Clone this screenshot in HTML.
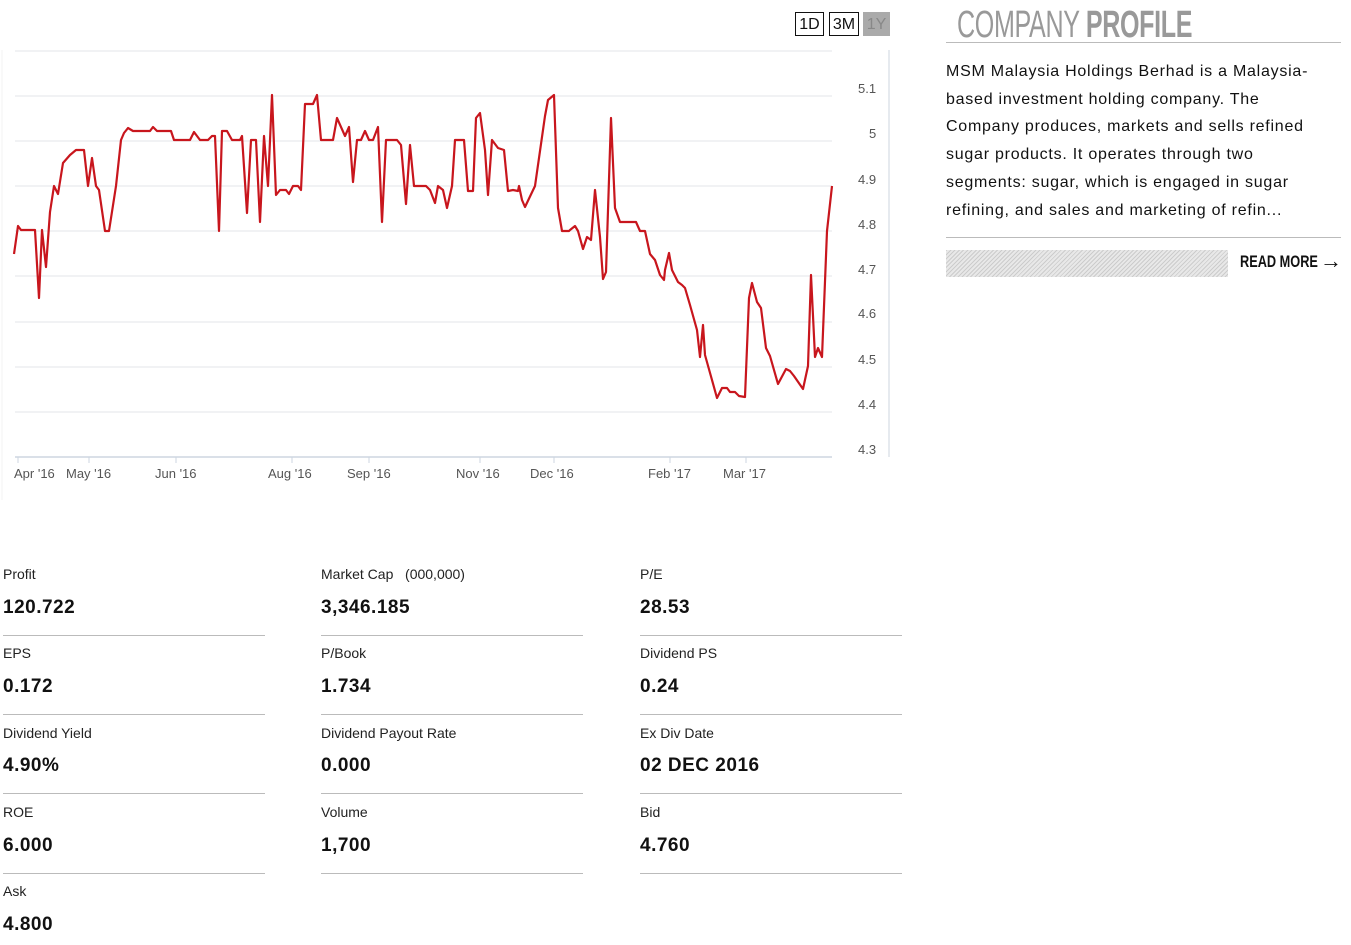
<!DOCTYPE html>
<html><head><style>
body{margin:0;width:1351px;height:945px;background:#fff;font-family:"Liberation Sans",sans-serif;position:relative;overflow:hidden;color:#111}
.a{position:absolute}
.btn{position:absolute;top:12px;height:24px;border:1.5px solid #111;font-size:16px;line-height:24px;text-align:center;box-sizing:border-box}
.lab{position:absolute;font-size:14px;color:#222}
.val{position:absolute;font-size:19px;font-weight:bold;letter-spacing:0.5px}
.ln{position:absolute;height:1px;background:#bbb;width:262px}
</style></head><body>
<div class="btn" style="left:795px;width:29px">1D</div>
<div class="btn" style="left:829px;width:30px">3M</div>
<div class="btn" style="left:863px;width:27px;background:#aaa;border-color:#aaa;color:#888">1Y</div>

<svg class="a" style="left:0;top:0" width="900" height="500">
<g stroke="#e3e6ea" stroke-width="1">
<line x1="15" x2="832" y1="51" y2="51"/><line x1="15" x2="832" y1="96" y2="96"/><line x1="15" x2="832" y1="141" y2="141"/><line x1="15" x2="832" y1="186" y2="186"/><line x1="15" x2="832" y1="231" y2="231"/><line x1="15" x2="832" y1="276" y2="276"/><line x1="15" x2="832" y1="322" y2="322"/><line x1="15" x2="832" y1="367" y2="367"/><line x1="15" x2="832" y1="412" y2="412"/>
</g>
<line x1="15" x2="832" y1="457" y2="457" stroke="#cdd6e0" stroke-width="1.5"/>
<line x1="889" x2="889" y1="50" y2="457" stroke="#dde3ea" stroke-width="1.5"/>
<line x1="2" x2="2" y1="50" y2="500" stroke="#f3f3f3" stroke-width="1"/>
<g stroke="#cdd6e0"><line x1="18" x2="18" y1="457" y2="463"/><line x1="89" x2="89" y1="457" y2="463"/><line x1="176" x2="176" y1="457" y2="463"/><line x1="292" x2="292" y1="457" y2="463"/><line x1="369" x2="369" y1="457" y2="463"/><line x1="480" x2="480" y1="457" y2="463"/><line x1="554" x2="554" y1="457" y2="463"/><line x1="670" x2="670" y1="457" y2="463"/><line x1="746" x2="746" y1="457" y2="463"/></g>
<g font-size="13" fill="#555" font-family="Liberation Sans">
<text x="858" y="93">5.1</text><text x="869" y="138">5</text><text x="858" y="184">4.9</text><text x="858" y="229">4.8</text><text x="858" y="274">4.7</text><text x="858" y="318">4.6</text><text x="858" y="364">4.5</text><text x="858" y="409">4.4</text><text x="858" y="454">4.3</text>
<text x="14" y="478">Apr '16</text><text x="66" y="478">May '16</text><text x="155" y="478">Jun '16</text><text x="268" y="478">Aug '16</text><text x="347" y="478">Sep '16</text><text x="456" y="478">Nov '16</text><text x="530" y="478">Dec '16</text><text x="648" y="478">Feb '17</text><text x="723" y="478">Mar '17</text>
</g>
<polyline fill="none" stroke="#c8161d" stroke-width="2.2" stroke-linejoin="round" points="14,254 18,226 21,230 35,230 39,298 42,230 46,267 50,212 54,186 58,194 63,163 70,155 76,150 84,150 88,186 92,158 96,186 99,190 105,231 109,231 116,186 121,140 124,133 128,128 133,131 150,131 153,127 157,131 171,131 174,140 190,140 194,132 200,140 208,140 212,136 215,136 219,231 222,131 227,131 232,140 240,140 242,136 247,213 251,140 256,140 260,222 264,136 268,186 272,95 276,195 280,190 286,190 289,194 293,186 298,186 301,190 305,104 313,104 317,95 321,140 333,140 337,118 345,136 349,127 353,182 357,140 361,140 365,131 369,140 373,140 378,127 382,222 386,140 397,140 401,145 406,204 410,145 414,186 426,186 430,190 435,203 438,186 443,190 447,208 452,186 455,140 464,140 468,191 473,191 476,118 480,113 485,150 488,195 492,140 498,148 504,150 508,191 513,190 518,191 519,186 522,200 525,207 535,186 545,116 548,100 554,95 558,208 562,231 569,231 570,230 575,226 578,231 583,249 587,237 591,240 595,190 600,237 603,279 606,272 611,118 615,208 620,222 636,222 640,231 645,231 650,254 655,260 660,275 664,280 665,270 669,253 672,270 678,282 682,285 685,288 690,305 697,330 700,357 703,325 705,355 712,380 717,398 722,388 727,388 730,392 735,392 739,396 745,397 749,298 752,283 757,302 761,308 766,348 770,356 778,384 786,369 790,371 794,376 803,389 808,366 811,275 815,357 818,348 822,357 827,231 832,186"/>
</svg>

<div class="a" style="left:957px;top:4px;font-size:38px;color:#999;transform:scaleX(0.66);transform-origin:0 0;white-space:nowrap;letter-spacing:-0.5px">COMPANY <b>PROFILE</b></div>
<div class="a" style="left:946px;top:42px;width:395px;height:1px;background:#bbb"></div>
<div class="a" style="left:946px;top:58px;width:405px;font-size:16px;line-height:27.7px;color:#111;letter-spacing:0.75px">MSM Malaysia Holdings Berhad is a Malaysia-<br>based investment holding company. The<br>Company produces, markets and sells refined<br>sugar products. It operates through two<br>segments: sugar, which is engaged in sugar<br>refining, and sales and marketing of refin...</div>
<div class="a" style="left:946px;top:237px;width:395px;height:1px;background:#bbb"></div>
<div class="a" style="left:946px;top:250px;width:282px;height:27px;background:repeating-linear-gradient(135deg,#ccc 0 1px,#e8e8e8 1px 3px)"></div>
<div class="a" style="left:1240px;top:252px;font-size:17px;font-weight:bold;transform:scaleX(0.75);transform-origin:0 0;white-space:nowrap">READ MORE</div>
<div class="a" style="left:1320px;top:248px;font-size:22px;font-weight:bold">→</div>

<div class="lab" style="left:3px;top:566px">Profit</div><div class="val" style="left:3px;top:597px">120.722</div><div class="ln" style="left:3px;top:635px"></div>
<div class="lab" style="left:321px;top:566px">Market Cap &nbsp;&nbsp;(000,000)</div><div class="val" style="left:321px;top:597px">3,346.185</div><div class="ln" style="left:321px;top:635px"></div>
<div class="lab" style="left:640px;top:566px">P/E</div><div class="val" style="left:640px;top:597px">28.53</div><div class="ln" style="left:640px;top:635px"></div>

<div class="lab" style="left:3px;top:645px">EPS</div><div class="val" style="left:3px;top:676px">0.172</div><div class="ln" style="left:3px;top:714px"></div>
<div class="lab" style="left:321px;top:645px">P/Book</div><div class="val" style="left:321px;top:676px">1.734</div><div class="ln" style="left:321px;top:714px"></div>
<div class="lab" style="left:640px;top:645px">Dividend PS</div><div class="val" style="left:640px;top:676px">0.24</div><div class="ln" style="left:640px;top:714px"></div>

<div class="lab" style="left:3px;top:725px">Dividend Yield</div><div class="val" style="left:3px;top:755px">4.90%</div><div class="ln" style="left:3px;top:793px"></div>
<div class="lab" style="left:321px;top:725px">Dividend Payout Rate</div><div class="val" style="left:321px;top:755px">0.000</div><div class="ln" style="left:321px;top:793px"></div>
<div class="lab" style="left:640px;top:725px">Ex Div Date</div><div class="val" style="left:640px;top:755px">02 DEC 2016</div><div class="ln" style="left:640px;top:793px"></div>

<div class="lab" style="left:3px;top:804px">ROE</div><div class="val" style="left:3px;top:835px">6.000</div><div class="ln" style="left:3px;top:873px"></div>
<div class="lab" style="left:321px;top:804px">Volume</div><div class="val" style="left:321px;top:835px">1,700</div><div class="ln" style="left:321px;top:873px"></div>
<div class="lab" style="left:640px;top:804px">Bid</div><div class="val" style="left:640px;top:835px">4.760</div><div class="ln" style="left:640px;top:873px"></div>

<div class="lab" style="left:3px;top:883px">Ask</div><div class="val" style="left:3px;top:914px">4.800</div>
</body></html>
